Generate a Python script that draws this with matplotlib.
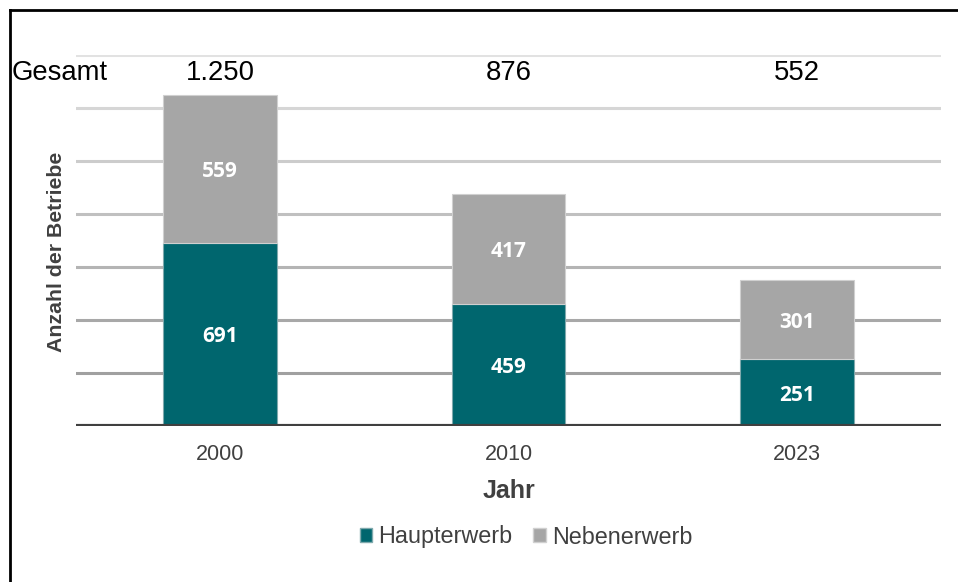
import matplotlib.pyplot as plt
import numpy as np
from matplotlib.lines import Line2D
from matplotlib.patches import Patch

plt.rcParams['font.family'] = ['Liberation Sans', 'DejaVu Sans']

years = ['2000', '2010', '2023']
haupterwerb = [691, 459, 251]
nebenerwerb = [559, 417, 301]
totals = ['1.250', '876', '552']

teal = '#00666e'
grey = '#a6a6a6'

fig = plt.figure(figsize=(9.58, 5.82), dpi=100)
ax = fig.add_axes([76 / 958, 1 - 426 / 582, 865 / 958, 371 / 582])

x = np.arange(len(years))
w = 0.395
ax.bar(x, haupterwerb, w, color=teal, edgecolor='#7fa9ad', linewidth=0.8, zorder=3)
ax.bar(x, nebenerwerb, w, bottom=haupterwerb, color=grey, edgecolor='#d0d0d0',
       linewidth=0.8, zorder=3)

lab_kw = dict(ha='center', va='center_baseline', color='white', fontsize=15,
              fontweight='bold', family='Open Sans', zorder=4)
for i in range(len(years)):
    ax.text(x[i], haupterwerb[i] / 2, str(haupterwerb[i]), **lab_kw)
    ax.text(x[i], haupterwerb[i] + nebenerwerb[i] / 2, str(nebenerwerb[i]), **lab_kw)

# gridlines, getting lighter towards the top
grid_cols = ['#a0a0a0', '#a8a8a8', '#b4b4b4', '#c0c0c0', '#cccccc', '#d6d6d6', '#e2e2e2']
for k, c in enumerate(grid_cols):
    ax.axhline(200 * (k + 1), color=c, linewidth=2.2, zorder=1)
ax.axhline(0, color='#404040', linewidth=3, zorder=5)

ax.set_xlim(-0.5, 2.5)
ax.set_ylim(0, 1400)
ax.set_yticks([])
ax.set_xticks(x)
ax.set_xticklabels(years, fontsize=15.5, color='#404040')
ax.tick_params(axis='x', length=0, pad=13)
for s in ax.spines.values():
    s.set_visible(False)

ax.set_xlabel('Jahr', fontsize=18, fontweight='bold', color='#404040', labelpad=10)
fig.text(57 / 958, 1 - 252 / 582, 'Anzahl der Betriebe', rotation=90, ha='center',
         va='center', fontsize=15.3, fontweight='bold', color='#404040')

# totals row
ty = 1 - 73 / 582
fig.text(12 / 958, ty, 'Gesamt', ha='left', va='center', fontsize=19.8, color='black')
for i in range(len(years)):
    xf = fig.transFigure.inverted().transform(ax.transData.transform((x[i], 0)))[0]
    fig.text(xf, ty, totals[i], ha='center', va='center', fontsize=19.8, color='black')

handles = [Patch(facecolor=teal, edgecolor='#7fa9ad'), Patch(facecolor=grey, edgecolor='#d0d0d0')]
fig.legend(handles, ['Haupterwerb', 'Nebenerwerb'], loc='center',
           bbox_to_anchor=(526 / 958, 1 - 537 / 582), ncol=2, frameon=False,
           fontsize=16.8, handlelength=0.55, handleheight=0.55, handletextpad=0.25,
           columnspacing=0.9, labelcolor='#404040')

# outer frame (left and top only visible)
fig.add_artist(Line2D([9.5 / 958, 9.5 / 958], [0, 1 - 10 / 582], color='black', linewidth=2))
fig.add_artist(Line2D([9.5 / 958, 1], [1 - 10 / 582, 1 - 10 / 582], color='black', linewidth=2))

fig.savefig('out.png', dpi=100)
